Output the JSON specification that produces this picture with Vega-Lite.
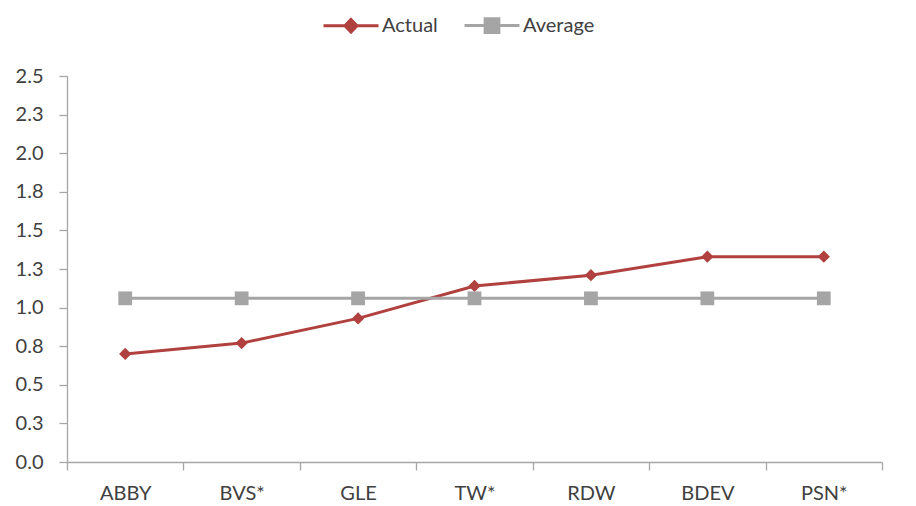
{
  "$schema": "https://vega.github.io/schema/vega-lite/v6.json",
  "width": 815,
  "height": 386,
  "autosize": {"type": "none"},
  "padding": {"left": 67, "top": 76, "right": 34, "bottom": 44},
  "background": "white",
  "config": {"view": {"stroke": null}, "font": "Lato"},
  "data": {
    "values": [
      {"cat": "ABBY", "series": "Actual", "value": 0.70},
      {"cat": "BVS*", "series": "Actual", "value": 0.77},
      {"cat": "GLE", "series": "Actual", "value": 0.93},
      {"cat": "TW*", "series": "Actual", "value": 1.14},
      {"cat": "RDW", "series": "Actual", "value": 1.21},
      {"cat": "BDEV", "series": "Actual", "value": 1.33},
      {"cat": "PSN*", "series": "Actual", "value": 1.33},
      {"cat": "ABBY", "series": "Average", "value": 1.06},
      {"cat": "BVS*", "series": "Average", "value": 1.06},
      {"cat": "GLE", "series": "Average", "value": 1.06},
      {"cat": "TW*", "series": "Average", "value": 1.06},
      {"cat": "RDW", "series": "Average", "value": 1.06},
      {"cat": "BDEV", "series": "Average", "value": 1.06},
      {"cat": "PSN*", "series": "Average", "value": 1.06}
    ]
  },
  "encoding": {
    "x": {
      "field": "cat",
      "type": "nominal",
      "sort": ["ABBY", "BVS*", "GLE", "TW*", "RDW", "BDEV", "PSN*"],
      "scale": {"type": "band", "paddingInner": 0, "paddingOuter": 0},
      "axis": {
        "title": null,
        "labelAngle": 0,
        "tickBand": "extent",
        "tickSize": 8,
        "tickColor": "#A6A6A6",
        "domainColor": "#A6A6A6",
        "domainWidth": 1.3,
        "tickWidth": 1.3,
        "labelPadding": 13,
        "labelFontSize": 20,
        "labelColor": "#404040",
        "grid": false
      }
    },
    "y": {
      "field": "value",
      "type": "quantitative",
      "scale": {"domain": [0, 2.5], "nice": false, "zero": true},
      "axis": {
        "title": null,
        "values": [0, 0.25, 0.5, 0.75, 1, 1.25, 1.5, 1.75, 2, 2.25, 2.5],
        "format": ".1f",
        "tickSize": 8,
        "tickColor": "#A6A6A6",
        "domainColor": "#A6A6A6",
        "domainWidth": 1.3,
        "tickWidth": 1.3,
        "labelPadding": 16,
        "labelFontSize": 20,
        "labelColor": "#404040",
        "grid": false
      }
    },
    "color": {
      "field": "series",
      "type": "nominal",
      "scale": {"domain": ["Actual", "Average"], "range": ["#B0413E", "#A5A5A5"]},
      "legend": {
        "title": null,
        "orient": "none",
        "direction": "horizontal",
        "legendX": 255,
        "legendY": -79.5,
        "padding": 0,
        "symbolSize": 3025,
        "symbolStrokeWidth": 3,
        "labelOffset": 2,
        "columnPadding": 20,
        "labelFontSize": 20,
        "labelColor": "#404040",
        "encode": {
          "symbols": {
            "update": {
              "shape": {"signal": "datum.value === 'Actual' ? 'M-1,0L1,0M0,-0.23L0.22,0L0,0.23L-0.22,0Z' : 'M-1,0L1,0M-0.25,-0.25L0.25,-0.25L0.25,0.25L-0.25,0.25Z'"},
              "fill": {"signal": "datum.value === 'Actual' ? '#B0413E' : '#A5A5A5'"},
              "stroke": {"signal": "datum.value === 'Actual' ? '#B0413E' : '#A5A5A5'"},
              "strokeWidth": {"value": 3},
              "opacity": {"value": 1},
              "fillOpacity": {"value": 1}
            }
          }
        }
      }
    }
  },
  "layer": [
    {"mark": {"type": "line", "strokeWidth": 3}},
    {
      "transform": [{"filter": "datum.series === 'Actual'"}],
      "mark": {"type": "point", "filled": true, "opacity": 1, "shape": "diamond", "size": 150}
    },
    {
      "transform": [{"filter": "datum.series === 'Average'"}],
      "mark": {"type": "point", "filled": true, "opacity": 1, "shape": "square", "size": 190}
    }
  ]
}
